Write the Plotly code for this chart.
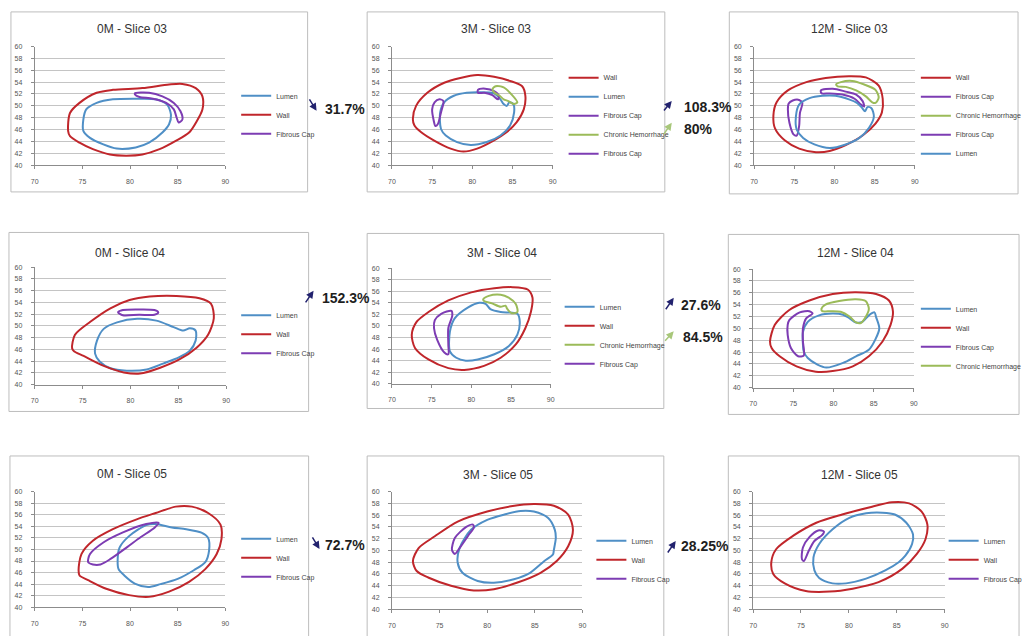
import plotly.graph_objects as go

W, H = 1028, 636

# ---------------- data: contour points (x, y) ----------------
# Slice 03 - 0M
S03_0M_LUMEN = [(75.1,47.7),(75.4,49.4),(76.5,50.5),(78.2,51.1),(80.6,51.2),(82.7,51.1),(83.9,50.2),(84.3,48.5),
                (84.1,46.9),(83.4,45.5),(82.0,43.8),(80.6,43.0),(78.6,42.8),(77.2,43.5),(75.8,44.6),(75.1,45.8)]
S03_0M_WALL = [(73.5,45.8),(73.7,48.8),(74.7,50.5),(76.5,52.2),(78.2,52.7),(81.3,53.0),(84.1,53.6),(85.5,53.7),
               (86.9,53.0),(87.6,51.6),(87.6,49.4),(87.0,47.4),(86.2,45.5),(84.8,44.1),(83.1,42.7),(81.3,41.8),
               (79.6,41.6),(77.9,41.8),(76.1,42.7),(74.7,43.8),(73.7,44.9)]
S03_0M_FC = [(80.5,52.1),(82.0,52.2),(83.4,51.6),(84.6,50.5),(85.3,49.1),(85.5,47.7),(85.1,47.2),(84.9,48.0),
             (84.6,49.4),(83.8,50.5),(82.4,51.2),(81.0,51.5),(80.6,51.8)]

# Slice 03 - 3M
S03_3M_WALL = [(72.6,47.8),(73.0,50.0),(74.4,52.2),(76.5,53.9),(78.5,54.7),(80.6,55.2),(82.7,54.9),(84.7,54.2),
               (86.2,53.3),(86.6,51.7),(86.4,49.4),(85.5,47.2),(84.3,45.6),(82.7,44.2),(80.6,42.8),(78.9,42.3),
               (77.3,42.8),(75.2,44.2),(73.6,45.6),(72.8,46.7)]
S03_3M_LUMEN = [(76.1,46.1),(76.0,48.9),(76.5,50.6),(77.7,51.7),(79.3,52.2),(80.9,52.3),(82.7,52.1),(83.5,51.1),
                (83.9,50.3),(84.3,50.0),(84.6,50.6),(85.1,50.3),(85.2,48.9),(84.7,46.7),(83.5,45.0),(81.8,43.9),
                (79.8,43.4),(78.1,43.9),(76.7,45.0)]
S03_3M_FC1 = [(80.7,52.7),(81.6,52.9),(82.7,52.5),(83.3,51.7),(83.2,51.1),(82.5,51.8),(81.5,52.2),(80.7,52.2)]
S03_3M_CH = [(82.5,52.8),(82.9,53.3),(83.9,53.1),(84.9,51.9),(85.6,50.6),(85.2,50.3),(84.5,50.8),(83.9,51.1),
             (83.4,51.7),(82.7,52.3)]
S03_3M_FC2 = [(75.9,51.1),(76.4,50.8),(76.1,48.9),(75.7,46.9),(75.4,46.6),(75.2,47.5),(75.0,49.4),(75.3,50.6)]

# Slice 03 - 12M
S03_12M_WALL = [(72.4,48.4),(72.8,50.6),(74.2,52.6),(76.5,54.0),(78.9,54.7),(81.8,55.0),(83.9,54.8),(85.5,53.4),
                (86.0,51.2),(85.9,48.9),(85.1,47.0),(83.5,45.0),(81.4,43.4),(79.4,42.4),(77.7,42.2),(75.6,42.8),
                (73.8,44.2),(72.6,46.2)]
S03_12M_FC1 = [(78.3,52.6),(79.8,52.9),(81.4,52.4),(82.7,51.9),(83.5,50.8),(83.7,49.9),(83.3,50.2),(82.5,51.2),
               (81.0,51.9),(79.4,52.1),(78.4,52.1)]
S03_12M_CH = [(80.2,53.6),(80.8,54.0),(82.2,54.2),(83.7,53.6),(85.1,52.7),(85.5,51.4),(85.1,50.5),(84.7,50.6),
              (83.9,51.6),(82.7,52.6),(81.4,53.2),(80.4,53.3)]
S03_12M_FC2 = [(74.8,50.9),(75.6,51.0),(76.0,50.5),(75.7,48.8),(75.6,46.6),(75.3,45.0),(74.9,45.2),(74.4,47.1),
               (74.2,49.4),(74.3,50.4)]
S03_12M_LUMEN = [(75.3,46.0),(75.2,48.2),(75.6,50.2),(76.9,51.3),(78.5,51.7),(80.1,51.7),(81.8,51.1),(82.8,50.5),
                 (83.4,49.7),(83.8,49.1),(84.1,49.8),(84.6,49.6),(84.9,48.2),(84.3,46.3),(83.1,44.6),(81.4,43.5),
                 (79.4,42.9),(77.5,43.5),(76.1,44.6)]

# Slice 04 - 0M
S04_0M_LUMEN = [(76.3,45.3),(76.5,47.5),(77.2,49.5),(78.6,50.6),(80.7,51.2),(82.7,50.9),(84.5,49.8),(85.5,49.2),
                (86.2,49.6),(86.8,49.2),(86.8,47.5),(86.2,45.8),(85.1,44.7),(83.4,43.6),(81.7,42.6),(79.6,42.4),
                (77.9,42.8),(76.8,43.9)]
S04_0M_WALL = [(73.9,46.2),(74.2,48.5),(75.8,50.7),(77.9,53.0),(79.9,54.4),(82.0,55.0),(84.8,55.1),(87.2,54.7),
               (88.4,53.8),(88.7,51.3),(88.1,48.5),(86.9,46.3),(85.1,44.3),(83.1,42.9),(81.0,41.9),(79.3,42.1),
               (77.2,43.2),(75.1,44.9),(74.1,45.7)]
S04_0M_FC = [(78.7,52.3),(79.2,52.7),(80.9,52.8),(82.5,52.7),(82.9,52.3),(82.5,51.9),(80.9,51.9),(79.2,51.8)]

# Slice 04 - 3M
S04_3M_LUMEN = [(77.3,45.6),(77.3,49.0),(77.9,51.3),(79.6,53.2),(81.0,54.0),(81.8,53.8),(82.4,52.9),(83.7,52.4),
                (84.9,52.3),(85.8,52.1),(86.1,50.7),(85.8,48.5),(84.7,46.5),(82.9,45.1),(80.8,44.2),(79.3,44.0),
                (78.1,44.5)]
S04_3M_WALL = [(72.5,48.5),(73.1,50.7),(74.6,52.4),(77.1,54.4),(80.0,55.8),(82.9,56.5),(85.2,56.7),(87.1,56.3),
               (87.7,54.9),(87.5,52.4),(86.8,49.6),(85.6,46.8),(83.7,44.5),(81.6,43.1),(79.1,42.4),(77.1,42.7),
               (74.6,44.2),(72.9,46.2)]
S04_3M_CH = [(81.5,54.6),(82.2,55.2),(83.7,55.4),(84.7,54.9),(85.6,53.8),(85.8,52.4),(85.1,52.2),(84.5,53.0),
             (84.3,53.5),(83.7,53.3),(82.6,53.9),(81.6,54.3)]
S04_3M_FC = [(76.2,52.1),(77.5,52.6),(77.6,51.8),(77.1,49.6),(77.1,46.8),(77.1,45.1),(76.6,45.4),(75.7,47.6),
             (75.3,49.6),(75.4,51.0)]

# Slice 04 - 12M
S04_12M_LUMEN = [(76.2,47.2),(76.2,49.4),(76.8,51.1),(78.2,52.2),(79.9,52.5),(81.2,52.3),(82.0,51.7),(82.8,51.0),
                 (83.6,51.1),(84.4,52.2),(85.1,52.7),(85.3,51.9),(85.7,50.0),(85.2,48.1),(84.4,46.4),(82.8,45.3),
                 (81.2,44.2),(79.1,43.4),(78.0,43.9),(76.8,45.0),(76.3,46.1)]
S04_12M_WALL = [(72.1,47.8),(72.7,50.6),(74.5,53.1),(77.0,54.7),(79.9,55.8),(82.8,56.1),(85.3,55.8),(86.9,54.7),
                (87.4,52.8),(87.1,50.6),(86.1,47.8),(84.4,45.3),(82.4,43.6),(79.9,42.8),(77.8,42.7),(75.4,43.6),
                (73.3,45.3),(72.3,46.7)]
S04_12M_FC = [(74.5,51.4),(75.8,52.7),(77.0,52.9),(77.4,52.5),(76.6,51.7),(76.2,50.0),(76.2,47.8),(76.3,45.4),
              (75.6,45.3),(74.7,46.7),(74.3,48.9),(74.3,50.6)]
S04_12M_CH = [(78.5,53.3),(79.0,54.0),(80.7,54.6),(82.8,54.9),(84.0,54.6),(84.4,53.3),(84.0,51.9),(83.4,50.9),
              (82.8,51.0),(82.0,52.0),(80.9,52.8),(79.7,52.9),(78.6,52.9)]

# Slice 05 - 0M
S05_0M_LUMEN = [(78.7,48.1),(78.9,50.3),(79.9,52.3),(81.7,54.2),(82.7,54.4),(84.4,53.8),(85.9,53.5),(87.5,52.9),
                (88.2,52.0),(88.3,49.8),(87.9,47.8),(86.7,46.4),(85.0,44.9),(83.2,44.0),(81.9,43.5),(80.5,44.1),
                (79.4,45.5),(78.8,46.6)]
S05_0M_WALL = [(74.6,46.4),(74.9,49.2),(76.1,51.5),(78.2,53.5),(80.7,55.2),(82.7,56.3),(84.8,57.4),(86.5,57.4),
               (88.2,56.3),(89.5,54.3),(89.6,51.8),(89.1,49.2),(87.9,46.6),(86.2,44.4),(84.1,42.7),(82.0,41.8),
               (79.9,42.1),(77.5,43.2),(75.6,44.7),(74.7,45.5)]
S05_0M_FC = [(75.6,47.8),(75.8,49.2),(77.2,51.2),(79.2,52.9),(81.7,54.4),(83.0,54.6),(82.6,53.8),(81.1,52.1),
             (79.7,50.4),(78.0,48.4),(76.9,47.4),(76.1,47.4)]

# Slice 05 - 3M
S05_3M_LUMEN = [(76.9,47.9),(77.1,50.4),(78.3,53.5),(80.0,55.2),(81.8,56.1),(83.5,56.7),(84.9,56.6),(86.4,55.5),
                (87.1,53.5),(87.2,52.1),(87.0,50.1),(86.9,49.3),(86.0,48.2),(84.5,46.2),(82.8,45.1),(80.7,44.5),
                (79.0,44.8),(77.4,46.2)]
S05_3M_WALL = [(72.2,48.2),(72.8,50.4),(74.5,52.4),(76.9,54.9),(80.0,56.6),(82.5,57.5),(84.9,57.9),(87.0,57.6),
               (88.5,56.1),(89.0,53.5),(88.5,50.7),(87.3,48.2),(85.6,46.2),(83.1,44.5),(80.7,43.4),(78.6,43.2),
               (76.2,44.0),(73.8,45.4),(72.6,46.5)]
S05_3M_FC = [(76.3,50.1),(76.6,52.1),(77.8,54.0),(78.5,54.4),(78.6,53.9),(78.0,52.5),(77.1,50.4),(76.6,49.4)]

# Slice 05 - 12M
S05_12M_LUMEN = [(76.4,46.6),(76.3,48.8),(76.9,51.1),(78.3,53.6),(80.0,55.5),(81.8,56.3),(83.5,56.4),(84.8,56.1),
                 (86.0,54.7),(86.7,52.7),(86.6,51.1),(85.9,49.1),(85.2,48.0),(83.8,46.6),(81.8,45.2),(79.7,44.4),
                 (78.3,44.4),(76.9,45.3)]
S05_12M_WALL = [(71.9,48.0),(72.4,50.2),(74.2,52.5),(76.6,54.7),(79.3,56.1),(82.1,57.3),(84.5,58.2),(86.3,58.0),
                (87.6,56.6),(88.2,54.4),(88.0,51.9),(87.1,49.4),(85.6,46.9),(83.1,44.6),(80.4,43.5),(78.0,43.0),
                (75.5,43.1),(73.3,44.4),(72.1,46.0)]
S05_12M_FC = [(75.1,48.5),(75.2,50.5),(75.9,52.3),(76.8,53.4),(77.4,53.2),(77.2,52.6),(76.4,51.6),(75.8,49.9),
              (75.3,48.2)]

TITLES = ["0M - Slice 03", "3M - Slice 03", "12M - Slice 03",
          "0M - Slice 04", "3M - Slice 04", "12M - Slice 04",
          "0M - Slice 05", "3M - Slice 05", "12M - Slice 05"]

SERIES = [
    [("Lumen", S03_0M_LUMEN), ("Wall", S03_0M_WALL), ("Fibrous Cap", S03_0M_FC)],
    [("Wall", S03_3M_WALL), ("Lumen", S03_3M_LUMEN), ("Fibrous Cap", S03_3M_FC1),
     ("Chronic Hemorrhage", S03_3M_CH), ("Fibrous Cap", S03_3M_FC2)],
    [("Wall", S03_12M_WALL), ("Fibrous Cap", S03_12M_FC1), ("Chronic Hemorrhage", S03_12M_CH),
     ("Fibrous Cap", S03_12M_FC2), ("Lumen", S03_12M_LUMEN)],
    [("Lumen", S04_0M_LUMEN), ("Wall", S04_0M_WALL), ("Fibrous Cap", S04_0M_FC)],
    [("Lumen", S04_3M_LUMEN), ("Wall", S04_3M_WALL), ("Chronic Hemorrhage", S04_3M_CH), ("Fibrous Cap", S04_3M_FC)],
    [("Lumen", S04_12M_LUMEN), ("Wall", S04_12M_WALL), ("Fibrous Cap", S04_12M_FC), ("Chronic Hemorrhage", S04_12M_CH)],
    [("Lumen", S05_0M_LUMEN), ("Wall", S05_0M_WALL), ("Fibrous Cap", S05_0M_FC)],
    [("Lumen", S05_3M_LUMEN), ("Wall", S05_3M_WALL), ("Fibrous Cap", S05_3M_FC)],
    [("Lumen", S05_12M_LUMEN), ("Wall", S05_12M_WALL), ("Fibrous Cap", S05_12M_FC)],
]

X_RANGE = [70, 90]
Y_RANGE = [40, 60]
X_TICKS = [70, 75, 80, 85, 90]
Y_TICKS = [40, 42, 44, 46, 48, 50, 52, 54, 56, 58, 60]

CHANGE_LABELS = ["31.7%", "108.3%", "80%", "152.3%", "27.6%", "84.5%", "72.7%", "28.25%"]
CHANGE_KIND = ["lumen", "lumen", "hem", "lumen", "lumen", "hem", "lumen", "lumen"]

# ---------------- styles & geometry (pixels) ----------------
COLORS = {"Lumen": "#4F8FC6", "Wall": "#C0262B", "Fibrous Cap": "#7D3CB3", "Chronic Hemorrhage": "#9BBB59"}
ARROW_COLORS = {"lumen": "#22226E", "hem": "#A8C77A"}

# plot area (x0, x1, y0, y1), box (x0, x1, y0, y1), title centre, legend (line start, centre y)
GEOM = [
    dict(plot=(31, 223, 43, 163), box=(7, 306, 8, 190), title=(129, 25), legend=(240, 112)),
    dict(plot=(391, 553, 43, 163), box=(366, 666, 8, 190), title=(496, 25), legend=(570, 113)),
    dict(plot=(756, 918, 43, 163), box=(731, 1022, 8, 192), title=(852, 25), legend=(925, 113)),
    dict(plot=(31, 224, 266, 385), box=(5, 307, 231, 412), title=(127, 252), legend=(240, 334)),
    dict(plot=(391, 551, 267, 384), box=(366, 665, 232, 409), title=(502, 252), legend=(566, 335)),
    dict(plot=(755, 917, 268, 388), box=(730, 1023, 233, 415), title=(858, 252), legend=(925, 337)),
    dict(plot=(31, 223, 493, 610), box=(6, 307, 457, 640), title=(129, 475), legend=(240, 560)),
    dict(plot=(391, 583, 493, 612), box=(366, 665, 457, 640), title=(498, 476), legend=(598, 562)),
    dict(plot=(755, 948, 493, 612), box=(730, 1023, 457, 640), title=(862, 476), legend=(953, 562)),
]
# arrow tail, arrow head, text left/centre
CHANGE_GEOM = [
    ((307, 95), (315, 108), (321, 106)),
    ((664, 109), (673, 98), (683, 104)),
    ((664, 133), (673, 120), (683, 126)),
    ((303, 303), (312, 290), (318, 297)),
    ((666, 310), (675, 297), (680, 304)),
    ((665, 342), (675, 331), (682, 337)),
    ((310, 538), (318, 551), (322, 547)),
    ((668, 556), (677, 543), (680, 548)),
]

FONT = "Liberation Sans, Arial, sans-serif"


def px(x):
    return x / W


def py(y):
    return 1 - y / H


fig = go.Figure()
layout = dict(
    width=W, height=H, autosize=False,
    margin=dict(l=0, r=0, t=0, b=0),
    paper_bgcolor="white", plot_bgcolor="white",
    font=dict(family=FONT, color="#444"),
    shapes=[], annotations=[],
)

for i, (title, series, g) in enumerate(zip(TITLES, SERIES, GEOM)):
    n = i + 1
    sfx = "" if n == 1 else str(n)
    lg = "legend" if n == 1 else f"legend{n}"
    for name, pts in series:
        xs = [p[0] for p in pts] + [pts[0][0]]
        ys = [p[1] for p in pts] + [pts[0][1]]
        fig.add_trace(go.Scatter(
            x=xs, y=ys, mode="lines", name=name,
            line=dict(color=COLORS[name], width=2, shape="spline", smoothing=0.8),
            xaxis=f"x{sfx}", yaxis=f"y{sfx}", legend=lg, hoverinfo="skip",
        ))
    x0, x1, y0, y1 = g["plot"]
    layout[f"xaxis{sfx}"] = dict(
        domain=[px(x0), px(x1)], range=X_RANGE, tickvals=X_TICKS, anchor=f"y{sfx}",
        showgrid=False, zeroline=False, showline=True, linecolor="#8C8C8C", linewidth=1,
        ticks="outside", ticklen=3, tickcolor="#8C8C8C", ticklabelstandoff=6,
        tickfont=dict(size=7, color="#555"), fixedrange=True,
    )
    layout[f"yaxis{sfx}"] = dict(
        domain=[py(y1), py(y0)], range=Y_RANGE, tickvals=Y_TICKS, anchor=f"x{sfx}",
        showgrid=True, gridcolor="#C4C4C4", gridwidth=1, zeroline=False,
        showline=True, linecolor="#8C8C8C", linewidth=1,
        ticks="outside", ticklen=3, tickcolor="#8C8C8C", ticklabelstandoff=7,
        tickfont=dict(size=7, color="#555"), fixedrange=True,
    )
    lx, lyc = g["legend"]
    layout[lg] = dict(
        x=px(lx - 6), y=py(lyc), xanchor="left", yanchor="middle",
        bgcolor="rgba(0,0,0,0)", borderwidth=0, font=dict(size=7, color="#444"),
        itemwidth=30, tracegroupgap=0, itemclick=False, itemdoubleclick=False,
    )
    bx0, bx1, by0, by1 = g["box"]
    layout["shapes"].append(dict(
        type="rect", xref="paper", yref="paper", x0=px(bx0), x1=px(bx1), y0=py(by1), y1=py(by0),
        line=dict(color="#BDBDBD", width=1), fillcolor="rgba(0,0,0,0)", layer="below",
    ))
    tx, ty = g["title"]
    layout["annotations"].append(dict(
        text=title, xref="paper", yref="paper", x=px(tx), y=py(ty), xanchor="center", yanchor="middle",
        showarrow=False, font=dict(size=12, color="#333", family=FONT),
    ))

for label, kind, (tail, head, txt) in zip(CHANGE_LABELS, CHANGE_KIND, CHANGE_GEOM):
    layout["annotations"].append(dict(
        text="", xref="paper", yref="paper", x=px(head[0]), y=py(head[1]),
        ax=tail[0] - head[0], ay=tail[1] - head[1], showarrow=True,
        arrowhead=2, arrowsize=1, arrowwidth=1.5, arrowcolor=ARROW_COLORS[kind], standoff=0,
    ))
    layout["annotations"].append(dict(
        text=f"<b>{label}</b>", xref="paper", yref="paper", x=px(txt[0]), y=py(txt[1]),
        xanchor="left", yanchor="middle", showarrow=False,
        font=dict(size=14, color="#1E1E1E", family=FONT),
    ))

fig.update_layout(**layout)
fig.write_html(
    "out.html",
    config={"displayModeBar": False, "staticPlot": False},
    post_script="document.body.style.margin='0';document.body.style.overflow='hidden';",
)
